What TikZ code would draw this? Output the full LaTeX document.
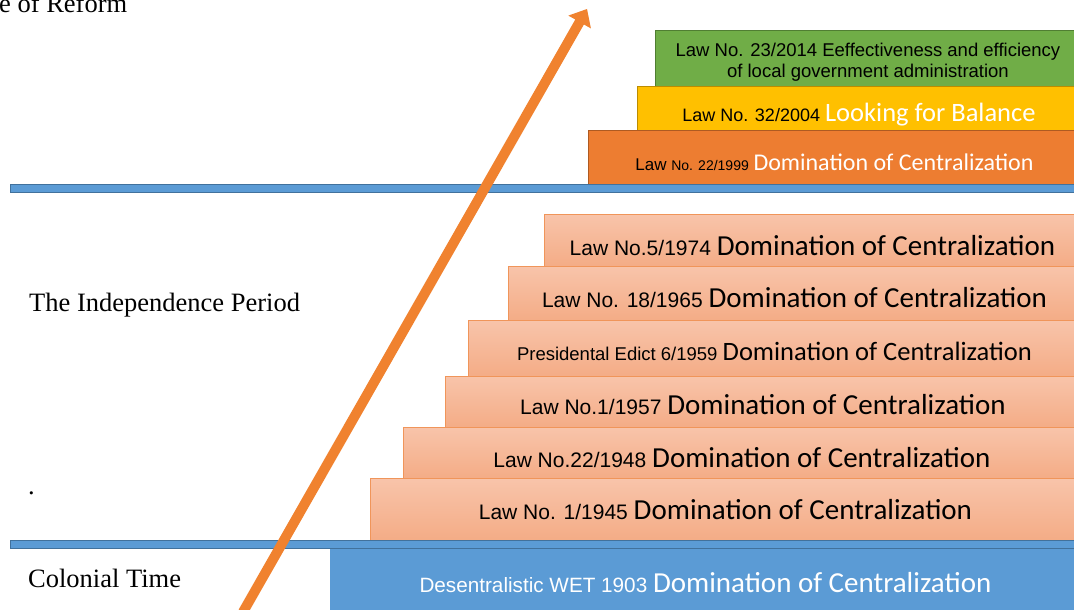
\documentclass[tikz,border=0pt]{standalone}
\usepackage{fontspec}
\setmainfont{Liberation Serif}
\newfontfamily\arialf{Liberation Sans}
\newfontfamily\calib{Carlito}
\definecolor{pinkT}{HTML}{F8C4AA}
\definecolor{pinkB}{HTML}{F4AC86}
\definecolor{pinkD}{HTML}{F0955A}
\definecolor{blueF}{HTML}{5B9BD5}
\definecolor{blueD}{HTML}{41719C}
\definecolor{greenF}{HTML}{70AD47}
\definecolor{greenD}{HTML}{507E32}
\definecolor{yellowF}{HTML}{FFC000}
\definecolor{yellowD}{HTML}{BC8C00}
\definecolor{orangeF}{HTML}{ED7D31}
\definecolor{orangeD}{HTML}{AE5A21}
\definecolor{arrowF}{HTML}{F0822F}
\newcommand\lawtxt[3]{\arialf\fontsize{#2}{24}\selectfont #1 {\calib\fontsize{#3}{32}\selectfont Domination of Centralization}}
\begin{document}
\begin{tikzpicture}[x=1pt,y=-1pt,
  lawbox/.style={rectangle,anchor=north west,inner sep=0pt,line width=0.9pt},
  pinkbox/.style={lawbox,draw=pinkD,top color=pinkT,bottom color=pinkB},
  lawtext/.style={inner sep=0pt,align=center},
  sepbar/.style={draw=blueD,fill=blueF,line width=1.2pt},
  period/.style={font=\fontsize{26.5}{30}\selectfont,anchor=base west,inner sep=0pt}]
\useasboundingbox (0,0) rectangle (1074,610);
\fill[white] (0,0) rectangle (1074,610);

% top stages
\node[lawbox,draw=greenD,fill=greenF,minimum width=425pt,minimum height=56pt] (g2014) at (655,30) {};
\node[lawtext,font=\arialf\fontsize{18.5}{21}\selectfont] (tg2014) at ([yshift=-4pt]g2014.center)
  {Law No. 23/2014 Eeffectiveness and efficiency\\of local government administration};
\node[lawbox,draw=yellowD,fill=yellowF,minimum width=443pt,minimum height=44pt] (y2004) at (637,86) {};
\node[lawtext] (ty2004) at ([yshift=-6pt]y2004.center)
  {\arialf\fontsize{18}{22}\selectfont Law No. 32/2004 {\calib\fontsize{26.5}{30}\selectfont\color{white}Looking for Balance}};
\node[lawbox,draw=orangeD,fill=orangeF,minimum width=492pt,minimum height=55pt] (o1999) at (588,130) {};
\node[lawtext] (to1999) at ([yshift=-4pt]o1999.center)
  {\arialf\fontsize{17}{22}\selectfont Law {\fontsize{14}{18}\selectfont No. 22/1999} {\calib\fontsize{24}{28}\selectfont\color{white}Domination of Centralization}};

% separator 1
\node[sepbar,rectangle,anchor=north west,minimum width=1070pt,minimum height=8pt,inner sep=0pt] (bar1) at (10,184) {};

% independence period
\node[pinkbox,minimum width=536pt,minimum height=52pt] (p1974) at (544,214) {};
\node[lawtext] (t1974) at ([yshift=-5pt]p1974.center) {\lawtxt{Law No.5/1974}{21}{29}};
\node[pinkbox,minimum width=572pt,minimum height=54pt] (p1965) at (508,266) {};
\node[lawtext] (t1965) at ([yshift=-4pt]p1965.center) {\lawtxt{Law No. 18/1965}{21}{29}};
\node[pinkbox,minimum width=612pt,minimum height=56pt] (p1959) at (468,320) {};
\node[lawtext] (t1959) at ([yshift=-3pt]p1959.center) {\lawtxt{Presidental Edict 6/1959}{18.5}{26.5}};
\node[pinkbox,minimum width=635pt,minimum height=51pt] (p1957) at (445,376) {};
\node[lawtext] (t1957) at ([yshift=-3pt]p1957.center) {\lawtxt{Law No.1/1957}{21}{29}};
\node[pinkbox,minimum width=677pt,minimum height=51pt] (p1948) at (403,427) {};
\node[lawtext] (t1948) at ([yshift=-5pt]p1948.center) {\lawtxt{Law No.22/1948}{21}{29}};
\node[pinkbox,minimum width=710pt,minimum height=62pt] (p1945) at (370,478) {};
\node[lawtext] (t1945) at (p1945.center) {\lawtxt{Law No. 1/1945}{21}{29}};

% separator 2
\node[sepbar,rectangle,anchor=north west,minimum width=1070pt,minimum height=8pt,inner sep=0pt] (bar2) at (10,540) {};

% colonial
\node[lawbox,fill=blueF,minimum width=750pt,minimum height=64pt] (b1903) at (330,549) {};
\node[lawtext,text=white] (tb1903) at ([yshift=-1pt]b1903.center)
  {\arialf\fontsize{20.7}{24}\selectfont Desentralistic WET 1903 {\calib\fontsize{29}{32}\selectfont Domination of Centralization}};

% period labels
\node[period] (reform) at (-1,13) {e of Reform};
\node[period] (indep) at (29,311) {The Independence Period};
\node[period] (dot) at (28,494) {.};
\node[period] (colon) at (28,587) {Colonial Time};

% arrow of reform
\fill[arrowF] (238.7,609.5) -- (247.3,614.5) -- (583.9,24.5) -- (590.9,28.4)
  -- (587,9) -- (568.3,15.6) -- (575.3,19.5) -- cycle;
\end{tikzpicture}
\end{document}
